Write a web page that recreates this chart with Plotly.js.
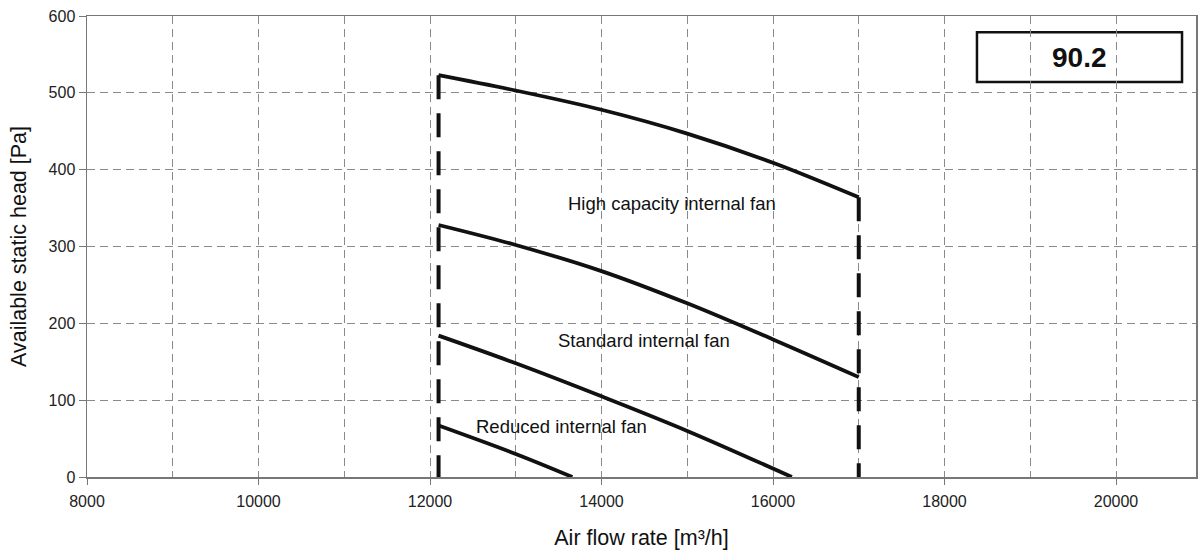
<!DOCTYPE html>
<html>
<head>
<meta charset="utf-8">
<script src="https://cdn.plot.ly/plotly-3.0.1.min.js"></script>
<style>
  html, body { margin: 0; padding: 0; background: #fff; }
  #chart { width: 1200px; height: 553px; }
</style>
</head>
<body>
<div id="chart"></div>
<script>
// Fan curves: available static head [Pa] against air flow rate [m³/h]
const maxFlow = [12100, 13000, 14000, 15000, 16000, 17000];
const maxHead = [523, 503, 478, 447, 409, 364];

const highFlow = [12100, 13000, 14000, 15000, 16000, 17000];
const highHead = [328, 302, 268, 226, 179, 130];

const stdFlow = [12100, 13000, 14000, 15000, 16220];
const stdHead = [184, 148, 105, 60, 0];

const redFlow = [12100, 13000, 13660];
const redHead = [67, 30, 0];

const curveLabels = ['High capacity internal fan', 'Standard internal fan', 'Reduced internal fan'];
const modelCode = '90.2';

const fontFamily = '"Liberation Sans", Arial, Helvetica, sans-serif';
const ink = '#111';

function curve(x, y, name) {
  return {
    x: x, y: y, name: name, type: 'scatter', mode: 'lines',
    line: { color: ink, width: 3.8, shape: 'spline', smoothing: 1 },
    hoverinfo: 'x+y'
  };
}

// Operating limits: minimum and maximum flow, drawn as heavy dashed verticals
const minLimit = {
  x: [maxFlow[0], maxFlow[0]],
  y: [maxHead[0], 0],
  type: 'scatter', mode: 'lines', name: 'min flow',
  line: { color: ink, width: 4, dash: '24px,14px' }
};
const maxLimit = {
  x: [maxFlow[maxFlow.length - 1], maxFlow[maxFlow.length - 1]],
  y: [maxHead[maxHead.length - 1], 0],
  type: 'scatter', mode: 'lines', name: 'max flow',
  line: { color: ink, width: 4, dash: '24px,14px' }
};

const traces = [
  minLimit, maxLimit,
  curve(maxFlow, maxHead, 'max'),
  curve(highFlow, highHead, 'high'),
  curve(stdFlow, stdHead, 'standard'),
  curve(redFlow, redHead, 'reduced')
];

const gridColor = '#8a8a8a';

const layout = {
  width: 1200, height: 553,
  margin: { l: 87, r: 4, t: 16, b: 76 },
  paper_bgcolor: '#fff', plot_bgcolor: '#fff',
  showlegend: false,
  font: { family: fontFamily, color: '#222', size: 16 },
  xaxis: {
    range: [8000, 20933],
    tickmode: 'linear', tick0: 8000, dtick: 2000, tickformat: 'd',
    ticks: 'outside', ticklen: 6, tickcolor: '#777', tickwidth: 1,
    ticklabelstandoff: 3,
    showgrid: true, gridcolor: gridColor, griddash: '8px,5px', gridwidth: 1,
    minor: { dtick: 1000, showgrid: true, gridcolor: gridColor, griddash: '8px,5px', gridwidth: 1, ticks: '' },
    showline: true, linecolor: '#777', linewidth: 1.5, mirror: true,
    zeroline: false,
    tickfont: { size: 16, color: '#222' },
    title: { text: 'Air flow rate [m³/h]', font: { size: 21.5, color: ink }, standoff: 21 },
    automargin: false
  },
  yaxis: {
    range: [0, 600],
    tickmode: 'linear', tick0: 0, dtick: 100, tickformat: 'd',
    ticks: 'outside', ticklen: 7, tickcolor: '#777', tickwidth: 1,
    showgrid: true, gridcolor: gridColor, griddash: '8px,5px', gridwidth: 1,
    showline: true, linecolor: '#777', linewidth: 1.5, mirror: true,
    zeroline: false,
    tickfont: { size: 16, color: '#222' },
    title: { text: 'Available static head [Pa]', font: { size: 21.5, color: ink }, standoff: 16 },
    automargin: false
  },
  shapes: [
    {
      type: 'rect', xref: 'paper', yref: 'paper',
      x0: 0.8025, x1: 0.9874, y0: 0.857, y1: 0.965,
      line: { color: ink, width: 2.5 }, fillcolor: '#fff', layer: 'between'
    }
  ],
  annotations: [
    { x: 0.895, y: 0.911, xref: 'paper', yref: 'paper', xanchor: 'center', yanchor: 'middle',
      text: '<b>' + modelCode + '</b>',
      showarrow: false, font: { size: 28, color: ink, family: fontFamily } },
    { x: 14818, y: 356, xref: 'x', yref: 'y', text: curveLabels[0],
      showarrow: false, font: { size: 18.5, color: ink } },
    { x: 14492, y: 178, xref: 'x', yref: 'y', text: curveLabels[1],
      showarrow: false, font: { size: 18.5, color: ink } },
    { x: 13536, y: 66, xref: 'x', yref: 'y', text: curveLabels[2],
      showarrow: false, font: { size: 18.5, color: ink } }
  ]
};

Plotly.newPlot('chart', traces, layout, { staticPlot: true, displayModeBar: false });
</script>
</body>
</html>
